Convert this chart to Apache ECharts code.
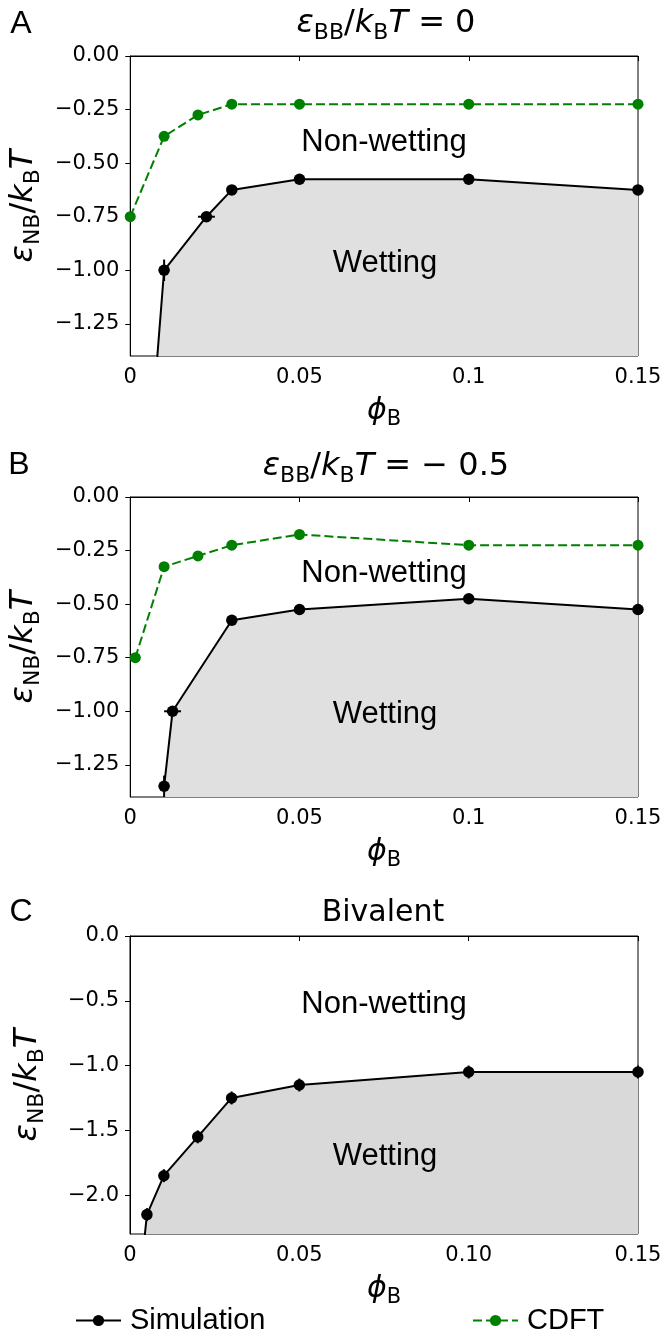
<!DOCTYPE html>
<html><head><meta charset="utf-8">
<script src="https://cdn.jsdelivr.net/npm/echarts@6/dist/echarts.min.js"></script>
<style>html,body{margin:0;padding:0;background:#fff}#c{width:665px;height:1334px}</style>
</head><body><div id="c"></div>
<script>
// ---------- data ----------
// Panel A: eps_BB/kBT = 0
const phiA_sim = [0.0075, 0.01, 0.0225, 0.03, 0.05, 0.1, 0.15];
const epsA_sim = [-1.5, -1.0, -0.75, -0.625, -0.575, -0.575, -0.625];
const errxA_sim = [0, 0, 0.0025, 0, 0, 0, 0];
const erryA_sim = [0, 0.05, 0, 0, 0, 0, 0];
const phiA_cdft = [0, 0.01, 0.02, 0.03, 0.05, 0.1, 0.15];
const epsA_cdft = [-0.75, -0.375, -0.275, -0.225, -0.225, -0.225, -0.225];
// Panel B: eps_BB/kBT = -0.5
const phiB_sim = [0.01, 0.0125, 0.03, 0.05, 0.1, 0.15];
const epsB_sim = [-1.35, -1.0, -0.575, -0.525, -0.475, -0.525];
const errxB_sim = [0, 0.0025, 0, 0, 0, 0];
const erryB_sim = [0.05, 0, 0, 0, 0, 0];
const phiB_cdft = [0.0015, 0.01, 0.02, 0.03, 0.05, 0.1, 0.15];
const epsB_cdft = [-0.75, -0.325, -0.275, -0.225, -0.175, -0.225, -0.225];
// Panel C: bivalent
const phiC_sim = [0.004, 0.005, 0.01, 0.02, 0.03, 0.05, 0.1, 0.15];
const epsC_sim = [-2.4, -2.15, -1.85, -1.55, -1.25, -1.15, -1.05, -1.05];
const errxC_sim = [0, 0, 0, 0, 0, 0, 0, 0];
const erryC_sim = [0, 0.05, 0.05, 0.05, 0.05, 0.05, 0.05, 0.05];
// ticks
const xTicks = [0, 0.05, 0.1, 0.15];
const xTickLabelsAB = ['0', '0.05', '0.1', '0.15'];
const xTickLabelsC = ['0', '0.05', '0.10', '0.15'];
const yTicksAB = [0, -0.25, -0.5, -0.75, -1.0, -1.25];
const yTickLabelsAB = ['0.00', '\u22120.25', '\u22120.50', '\u22120.75', '\u22121.00', '\u22121.25'];
const yTicksC = [0, -0.5, -1.0, -1.5, -2.0];
const yTickLabelsC = ['0.0', '\u22120.5', '\u22121.0', '\u22121.5', '\u22122.0'];
const yRangeAB = [-1.4, 0];
const yRangeC = [-2.3, 0];
const xRange = [0, 0.15];

// ---------- helpers ----------
const FONT = 'DejaVu Sans';
const SANS2 = 'Liberation Sans';
const zip = (a, b) => a.map((v, i) => [v, b[i]]);
const lab = (ticks, labels) => v => {
  for (let i = 0; i < ticks.length; i++) if (Math.abs(ticks[i] - v) < 1e-9) return labels[i];
  return '';
};
const mathRich = (fs) => ({
  i: { fontFamily: FONT, fontSize: fs, fontStyle: 'italic', lineHeight: fs + 8, color: '#000' },
  n: { fontFamily: FONT, fontSize: fs, lineHeight: fs + 8, color: '#000' },
  s: { fontFamily: FONT, fontSize: Math.round(fs * 0.7), verticalAlign: 'bottom', color: '#000' }
});
const yName = '{i|ε}{s|NB}{n|/}{i|k}{s|B}{i|T}';
const xName = '{i|ϕ}{s|B}';

const grids = [
  { left: 130, top: 56, width: 508, height: 300 },
  { left: 130, top: 497, width: 508, height: 300 },
  { left: 130, top: 936, width: 508, height: 298 }
].map(g => Object.assign(g, { show: true, borderColor: '#000', borderWidth: 1, backgroundColor: 'transparent', containLabel: false }));

function xAxis(idx, labels) {
  return {
    type: 'value', gridIndex: idx, min: xRange[0], max: xRange[1],
    name: xName, nameLocation: 'middle', nameGap: 36,
    nameTextStyle: { fontFamily: FONT, fontSize: 30, rich: mathRich(30) },
    axisLine: { show: true, lineStyle: { color: '#000', width: 1 } },
    axisTick: { show: true, length: 5, lineStyle: { color: '#000', width: 1 }, customValues: xTicks },
    axisLabel: { fontFamily: FONT, fontSize: 21, color: '#000', margin: 11, customValues: xTicks, formatter: lab(xTicks, labels) },
    splitLine: { show: false }
  };
}
function yAxis(idx, range, ticks, labels) {
  return {
    type: 'value', gridIndex: idx, min: range[0], max: range[1],
    name: yName, nameLocation: 'middle', nameGap: 82, nameRotate: 90,
    nameTextStyle: { fontFamily: FONT, fontSize: 32, rich: mathRich(32) },
    axisLine: { show: true, onZero: false, lineStyle: { color: '#000', width: 1 } },
    axisTick: { show: true, length: 5, lineStyle: { color: '#000', width: 1 }, customValues: ticks },
    axisLabel: { fontFamily: FONT, fontSize: 21, color: '#000', margin: 11, customValues: ticks, formatter: lab(ticks, labels) },
    splitLine: { show: false }
  };
}

function simSeries(idx, phi, eps, fill) {
  return {
    type: 'line', name: 'Simulation', xAxisIndex: idx, yAxisIndex: idx,
    data: zip(phi, eps), symbol: 'circle', symbolSize: 11.5, showAllSymbol: true,
    itemStyle: { color: '#000' }, lineStyle: { color: '#000', width: 2 },
    areaStyle: { color: fill, opacity: 1, origin: 'start' },
    clip: true, z: 2, silent: true, animation: false
  };
}
function errSeries(idx, phi, eps, ex, ey) {
  return {
    type: 'custom', xAxisIndex: idx, yAxisIndex: idx, z: 3, silent: true, animation: false,
    data: phi.map((v, i) => [v, eps[i], ex[i], ey[i]]),
    renderItem: (params, api) => {
      const x = api.value(0), y = api.value(1), dx = api.value(2), dy = api.value(3);
      const children = [];
      if (dy > 0) {
        const p1 = api.coord([x, y - dy]), p2 = api.coord([x, y + dy]);
        children.push({ type: 'line', shape: { x1: p1[0], y1: p1[1], x2: p2[0], y2: p2[1] }, style: { stroke: '#000', lineWidth: 2 } });
      }
      if (dx > 0) {
        const p1 = api.coord([x - dx, y]), p2 = api.coord([x + dx, y]);
        children.push({ type: 'line', shape: { x1: p1[0], y1: p1[1], x2: p2[0], y2: p2[1] }, style: { stroke: '#000', lineWidth: 2 } });
      }
      return { type: 'group', children };
    }
  };
}
function cdftSeries(idx, phi, eps) {
  return {
    type: 'line', name: 'CDFT', xAxisIndex: idx, yAxisIndex: idx,
    data: zip(phi, eps), symbol: 'circle', symbolSize: 11, showAllSymbol: true,
    itemStyle: { color: '#008000' }, lineStyle: { color: '#008000', width: 2, type: [9, 4] },
    clip: false, z: 4, silent: true, animation: false
  };
}

function txt(x, y, text, font, size, rich) {
  return {
    type: 'text', x, y, silent: true, z: 10,
    style: { text, fontFamily: font, fontSize: size, fill: '#000', align: 'center', verticalAlign: 'middle', rich }
  };
}
const titleRich = mathRich(32);

const option = {
  animation: false,
  backgroundColor: '#fff',
  grid: grids,
  xAxis: [xAxis(0, xTickLabelsAB), xAxis(1, xTickLabelsAB), xAxis(2, xTickLabelsC)],
  yAxis: [yAxis(0, yRangeAB, yTicksAB, yTickLabelsAB), yAxis(1, yRangeAB, yTicksAB, yTickLabelsAB), yAxis(2, yRangeC, yTicksC, yTickLabelsC)],
  legend: [
    { left: 75, top: 1306, padding: 0, data: ['Simulation'], itemWidth: 45, itemHeight: 14, selectedMode: false,
      textStyle: { fontFamily: SANS2, fontSize: 29, color: '#000', padding: [0, 0, 0, 4] } },
    { left: 472, top: 1306, padding: 0, data: ['CDFT'], itemWidth: 45, itemHeight: 14, selectedMode: false,
      textStyle: { fontFamily: SANS2, fontSize: 29, color: '#000', padding: [0, 0, 0, 4] } }
  ],
  series: [
    simSeries(0, phiA_sim, epsA_sim, '#e0e0e0'),
    errSeries(0, phiA_sim, epsA_sim, errxA_sim, erryA_sim),
    cdftSeries(0, phiA_cdft, epsA_cdft),
    simSeries(1, phiB_sim, epsB_sim, '#e0e0e0'),
    errSeries(1, phiB_sim, epsB_sim, errxB_sim, erryB_sim),
    cdftSeries(1, phiB_cdft, epsB_cdft),
    simSeries(2, phiC_sim, epsC_sim, '#d9d9d9'),
    errSeries(2, phiC_sim, epsC_sim, errxC_sim, erryC_sim)
  ],
  graphic: [
    txt(21, 24, 'A', SANS2, 32),
    txt(19, 465, 'B', SANS2, 32),
    txt(21, 912, 'C', SANS2, 32),
    txt(386, 24, '{i|ε}{s|BB}{n|/}{i|k}{s|B}{i|T}{n| = 0}', FONT, 32, titleRich),
    txt(386, 467, '{i|ε}{s|BB}{n|/}{i|k}{s|B}{i|T}{n| = − 0.5}', FONT, 32, titleRich),
    txt(383, 913, 'Bivalent', FONT, 30),
    txt(384, 142, 'Non-wetting', SANS2, 31),
    txt(385, 263, 'Wetting', SANS2, 31),
    txt(384, 573, 'Non-wetting', SANS2, 31),
    txt(385, 714, 'Wetting', SANS2, 31),
    txt(384, 1004, 'Non-wetting', SANS2, 31),
    txt(385, 1156, 'Wetting', SANS2, 31)
  ]
};
const chart = echarts.init(document.getElementById('c'), null, { renderer: 'canvas' });
chart.setOption(option);
</script>
</body></html>
